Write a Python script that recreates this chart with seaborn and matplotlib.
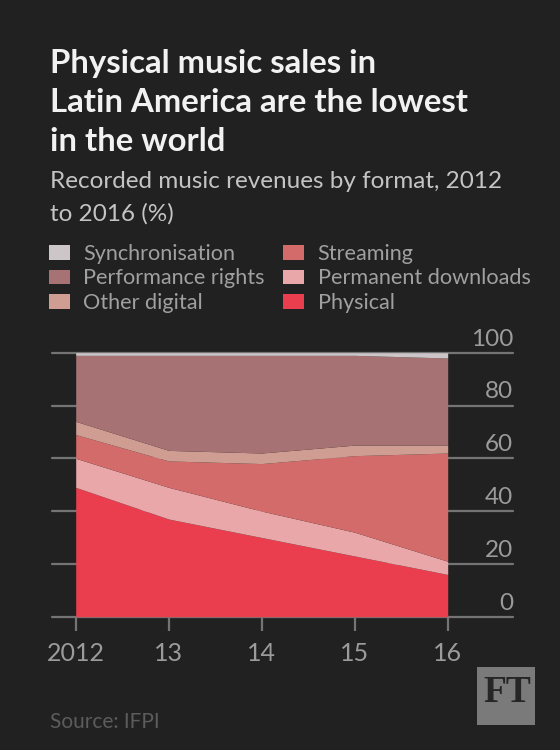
import numpy as np
import pandas as pd
import matplotlib
matplotlib.use("Agg")
import matplotlib.pyplot as plt
from matplotlib.patches import Rectangle
import seaborn as sns

# ---- data (percent of recorded music revenues, Latin America) ----
years = [2012, 2013, 2014, 2015, 2016]
physical = [49, 37, 30, 23, 16]
permanent_downloads = [11, 12, 10, 9, 5]
streaming = [9, 10, 18, 29, 41]
other_digital = [5, 4, 4, 4, 3]
performance_rights = [25, 36, 37, 34, 33]
synchronisation = [1, 1, 1, 1, 2]

x_labels = ["2012", "13", "14", "15", "16"]
y_ticks = [0, 20, 40, 60, 80, 100]

series_names = ["Physical", "Permanent downloads", "Streaming",
                "Other digital", "Performance rights", "Synchronisation"]
series_values = [physical, permanent_downloads, streaming,
                 other_digital, performance_rights, synchronisation]

df = pd.DataFrame({name: vals for name, vals in zip(series_names, series_values)},
                  index=years)

# ---- style ----
BG = "#212121"
colors = {
    "Physical": "#ea3e4f",
    "Permanent downloads": "#e9a7a9",
    "Streaming": "#d36b6a",
    "Other digital": "#d09d92",
    "Performance rights": "#a67273",
    "Synchronisation": "#cdc6c8",
}
GRID = "#747474"
TICKTXT = "#9b9b9b"

sns.set_theme(style="dark")
plt.rcParams["font.family"] = ["Lato", "DejaVu Sans"]

W, H = 560, 750
fig = plt.figure(figsize=(W / 100, H / 100), dpi=100, facecolor=BG)

def fx(px):
    return px / W

def fy(py):
    return 1 - py / H

ax_left, ax_right, ax_top, ax_bottom = 52, 513.3, 352.7, 616.7
ax = fig.add_axes([fx(ax_left), fy(ax_bottom), fx(ax_right - ax_left),
                   (ax_bottom - ax_top) / H])
ax.set_facecolor(BG)

# x range so that data run from 2012 at px 75.7 to 2016 at px 447.7
px_per_year = (447.7 - 75.7) / 4
x0 = years[0] - (75.7 - ax_left) / px_per_year
x1 = years[-1] + (ax_right - 447.7) / px_per_year
ax.set_xlim(x0, x1)
ax.set_ylim(0, 100)

# gridlines behind
for v in y_ticks:
    ax.axhline(v, color=GRID, lw=1.6, zorder=0, clip_on=False)

# stacked areas
bottom = np.zeros(len(years))
for name in series_names:
    vals = df[name].to_numpy(dtype=float)
    ax.fill_between(df.index, bottom, bottom + vals, color=colors[name],
                    lw=0, zorder=2)
    bottom = bottom + vals

for s in ax.spines.values():
    s.set_visible(False)
ax.grid(False)

# x ticks
ax.set_xticks(years)
ax.set_xticklabels(x_labels)
ax.tick_params(axis="x", length=10, width=1.6, color=GRID, colors=TICKTXT,
               labelsize=18, pad=8, direction="out", bottom=True)
for lab in ax.get_xticklabels():
    lab.set_color(TICKTXT)
ax.set_yticks([])

# y labels above gridlines at right
for v in y_ticks:
    ax.annotate(str(v), xy=(1, v), xycoords=("axes fraction", "data"),
                xytext=(0, 7), textcoords="offset pixels",
                ha="right", va="baseline", fontsize=17.5, color=TICKTXT,
                annotation_clip=False)

# ---- titles ----
title_lines = ["Physical music sales in", "Latin America are the lowest",
               "in the world"]
for i, line in enumerate(title_lines):
    fig.text(fx(50), fy(72.7 + i * 39), line, fontsize=23.7, fontweight="bold",
             color="#f2f2f2", va="baseline", ha="left")
sub_lines = ["Recorded music revenues by format, 2012", "to 2016 (%)"]
for i, line in enumerate(sub_lines):
    fig.text(fx(50), fy(188.3 + i * 32.5), line, fontsize=17.5, color="#c4c4c4",
             va="baseline", ha="left")

# ---- legend ----
legend_cols = [["Synchronisation", "Performance rights", "Other digital"],
               ["Streaming", "Permanent downloads", "Physical"]]
col_sq_x = [49, 283.3]
col_txt_x = [83.3, 317.7]
row_base = [260, 284.5, 309]
for c, names in enumerate(legend_cols):
    for r, name in enumerate(names):
        fig.patches.append(Rectangle((fx(col_sq_x[c]), fy(row_base[r] - 0.5)),
                                     21 / W, 14.5 / H, transform=fig.transFigure,
                                     color=colors[name], lw=0))
        fig.text(fx(col_txt_x[c]), fy(row_base[r]), name, fontsize=15.6,
                 color="#a0a0a0", va="baseline", ha="left")

# ---- source & logo ----
fig.text(fx(50.5), fy(728.3), "Source: IFPI", fontsize=15, color="#5c5c5c",
         va="baseline", ha="left")
fig.patches.append(Rectangle((fx(477.3), fy(724.7)), 57.4 / W, 57.4 / H,
                             transform=fig.transFigure, color="#7a7a7a", lw=0))
fig.text(fx(507), fy(701.5), "FT", fontsize=27, color="#262626",
         family=["Liberation Serif", "DejaVu Serif"], fontweight="bold",
         va="baseline", ha="center")

fig.savefig("out.png", dpi=100, facecolor=BG)
